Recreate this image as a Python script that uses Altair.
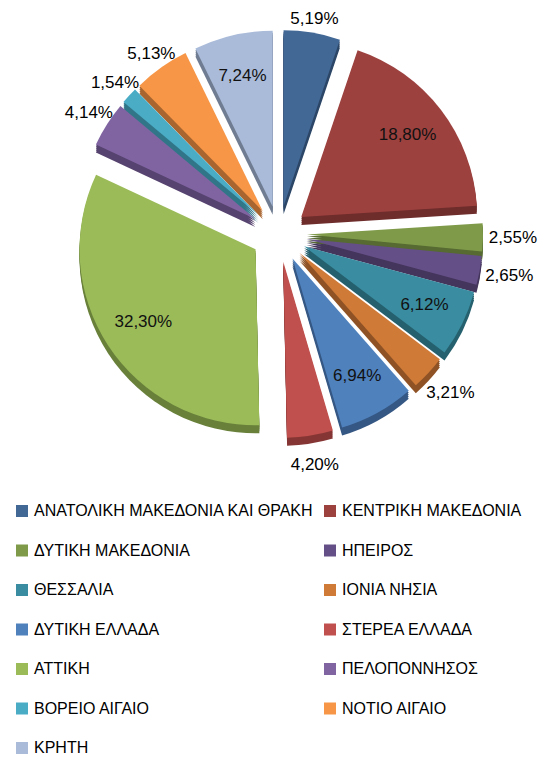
import altair as alt
import pandas as pd

# ---- data ----
regions = [
    "ΑΝΑΤΟΛΙΚΗ ΜΑΚΕΔΟΝΙΑ ΚΑΙ ΘΡΑΚΗ",
    "ΚΕΝΤΡΙΚΗ ΜΑΚΕΔΟΝΙΑ",
    "ΔΥΤΙΚΗ ΜΑΚΕΔΟΝΙΑ",
    "ΗΠΕΙΡΟΣ",
    "ΘΕΣΣΑΛΙΑ",
    "ΙΟΝΙΑ ΝΗΣΙΑ",
    "ΔΥΤΙΚΗ ΕΛΛΑΔΑ",
    "ΣΤΕΡΕΑ ΕΛΛΑΔΑ",
    "ΑΤΤΙΚΗ",
    "ΠΕΛΟΠΟΝΝΗΣΟΣ",
    "ΒΟΡΕΙΟ ΑΙΓΑΙΟ",
    "ΝΟΤΙΟ ΑΙΓΑΙΟ",
    "ΚΡΗΤΗ",
]
shares = [5.19, 18.80, 2.55, 2.65, 6.12, 3.21, 6.94, 4.20, 32.30, 4.14, 1.54, 5.13, 7.24]

colors = ["#426896", "#9D413F", "#7F9B4A", "#654F87", "#3A8DA1", "#CF7A37", "#4F81BD",
          "#C0504D", "#9BBB59", "#8064A2", "#4BACC6", "#F79646", "#A9BBD9"]
dark_colors = ["#2C4667", "#6E2C2B", "#566A31", "#44355C", "#25606E", "#8E5225", "#355783",
               "#853634", "#68803A", "#56436F", "#307688", "#A8652F", "#6F7C91"]

df = pd.DataFrame({"region": regions, "share": shares, "idx": list(range(len(regions)))})

# ---- style / geometry ----
FONT = "Liberation Sans, Arial, sans-serif"
CX, CY = 271, 226      # pie centre inside the plot area
R = 176                # slice radius
D = 28                 # explosion distance
DEPTH = [2, 4, 6, 8]   # 3-D rim offsets
R_IN = 134

base = (
    alt.Chart(df)
    .transform_joinaggregate(total="sum(share)")
    .transform_window(cum="sum(share)", sort=[alt.SortField("idx")], frame=[None, 0])
    .transform_calculate(
        mid="2*PI*(datum.cum - datum.share/2)/datum.total",
        label="replace(format(datum.share, '.2f'), '.', ',') + '%'",
    )
    .transform_calculate(
        px=f"{CX} + {D}*sin(datum.mid)",
        py=f"{CY} - {D}*cos(datum.mid)",
        lr=f"{R} + 30 - 16*max(0, cos(datum.mid))",
    )
)

theta = alt.Theta("share:Q", stack=True)
order = alt.Order("idx:Q")
xpos = alt.X("px:Q", scale=None, axis=None)
ypos = alt.Y("py:Q", scale=None, axis=None)
theta_mid = alt.Theta("mid:Q", scale=None, stack=None)

layers = []
for dz in DEPTH:
    layers.append(
        base.transform_calculate(pyd=f"datum.py + {dz}")
        .mark_arc(outerRadius=R, stroke=None)
        .encode(
            theta=theta,
            order=order,
            x=xpos,
            y=alt.Y("pyd:Q", scale=None, axis=None),
            fill=alt.Fill("idx:N", scale=alt.Scale(domain=list(range(len(regions))),
                                                   range=dark_colors), legend=None),
        )
    )

top = base.mark_arc(outerRadius=R, stroke=None).encode(
    theta=theta,
    order=order,
    x=xpos,
    y=ypos,
    color=alt.Color(
        "region:N",
        sort=regions,
        scale=alt.Scale(domain=regions, range=colors),
        legend=alt.Legend(
            title=None,
            orient="none",
            direction="horizontal",
            legendX=6,
            legendY=495,
            columns=2,
            columnPadding=8,
            rowPadding=23.5,
            symbolType="square",
            symbolSize=144,
            symbolStrokeWidth=0,
            labelFont=FONT,
            labelFontSize=16,
            labelColor="#000000",
            labelOffset=4,
            labelLimit=400,
        ),
    ),
)
layers.append(top)

inside = base.mark_text(radius=R_IN, font=FONT, fontSize=17, color="#111111").encode(
    theta=theta_mid,
    x=xpos,
    y=ypos,
    text=alt.condition("datum.share >= 6", alt.Text("label:N"), alt.value("")),
)
outside = base.mark_text(font=FONT, fontSize=17, color="#000000").encode(
    theta=theta_mid,
    radius=alt.Radius("lr:Q", scale=None),
    x=xpos,
    y=ypos,
    text=alt.condition("datum.share < 6", alt.Text("label:N"), alt.value("")),
)
layers += [inside, outside]

chart = (
    alt.layer(*layers)
    .properties(width=534, height=750, padding=0,
                autosize=alt.AutoSizeParams(type="none"))
    .configure_view(stroke=None)
)

chart.save("out.html", embed_options={"renderer": "svg", "actions": False})
